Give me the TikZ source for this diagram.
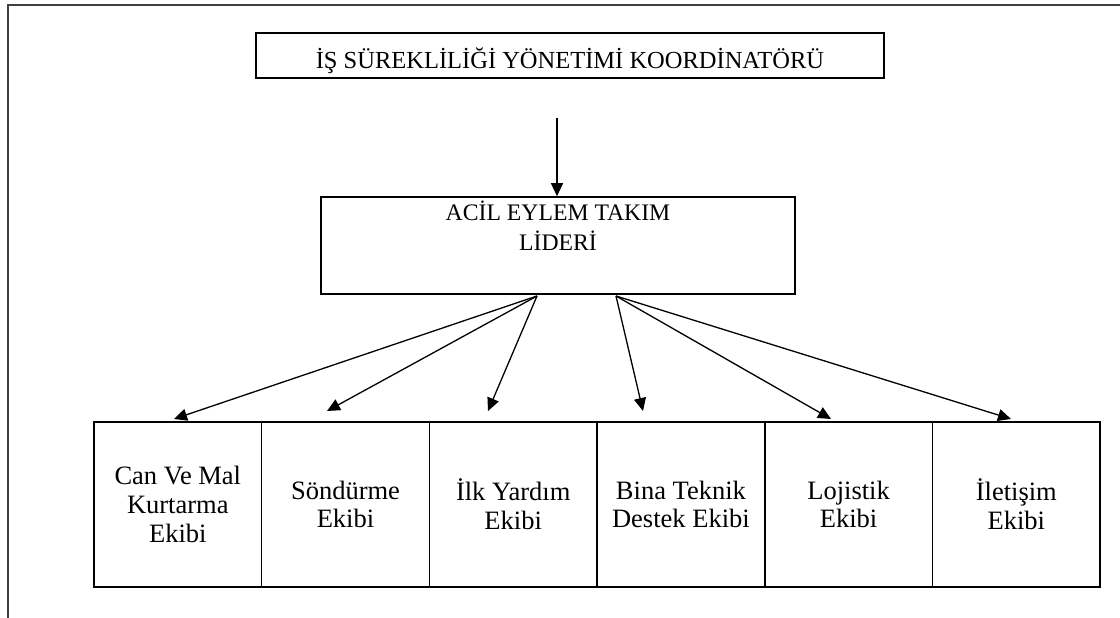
\documentclass[tikz,border=0pt]{standalone}
\usepackage{fontspec}
\setmainfont{Liberation Serif}
\usetikzlibrary{arrows.meta}

\begin{document}
\begin{tikzpicture}[x=1pt,y=-1pt,
  kutu/.style={draw,line width=1.6pt,inner sep=0pt,align=center},
  ekip/.style={kutu,minimum width=167.7pt,minimum height=165pt,font=\fontsize{26.5}{28.7}\selectfont},
  ok/.style={-{Triangle[length=13pt,width=12pt]},line width=1.3pt}]
\useasboundingbox (0,0) rectangle (1120,618);
% frame
\draw [line width=1.6pt,black!75] (1120,5) -- (8,5) -- (8,618);
\node [kutu,minimum width=628pt,minimum height=45pt,text height=27pt,text depth=0pt,
  font=\fontsize{24.5}{26}\selectfont] (koord) at (570,55.5)
  {İŞ SÜREKLİLİĞİ YÖNETİMİ KOORDİNATÖRÜ};
\node [kutu,minimum width=474pt,minimum height=97pt,font=\fontsize{23.7}{30}\selectfont] (lider) at (558,245.5)
  {ACİL EYLEM TAKIM\\LİDERİ\\\strut};
\node [ekip] (can) at (177.8,504.5) {Can Ve Mal\\Kurtarma\\Ekibi};
\node [ekip] (sondurme) at (345.5,504.5) {Söndürme\\Ekibi};
\node [ekip] (ilkyardim) at (513.2,504.5) {İlk Yardım\\Ekibi};
\node [ekip] (bina) at (680.9,504.5) {Bina Teknik\\Destek Ekibi};
\node [ekip] (lojistik) at (848.6,504.5) {Lojistik\\Ekibi};
\node [ekip] (iletisim) at (1016.3,504.5) {İletişim\\Ekibi};
% arrow ends
\coordinate (ust) at (557,118);
\coordinate (sol) at (537,296);
\coordinate (sag) at (616,296);
\coordinate (canuc) at (174,419);
\coordinate (sondurmeuc) at (327,411);
\coordinate (ilkyardimuc) at (488,411);
\coordinate (binauc) at (643,411);
\coordinate (lojistikuc) at (831,419);
\coordinate (iletisimuc) at (1011,419);
\draw [ok] (ust) -- (lider.north -| ust);
\draw [ok] (sol) -- (canuc);
\draw [ok] (sol) -- (sondurmeuc);
\draw [ok] (sol) -- (ilkyardimuc);
\draw [ok] (sag) -- (binauc);
\draw [ok] (sag) -- (lojistikuc);
\draw [ok] (sag) -- (iletisimuc);
\end{tikzpicture}
\end{document}
